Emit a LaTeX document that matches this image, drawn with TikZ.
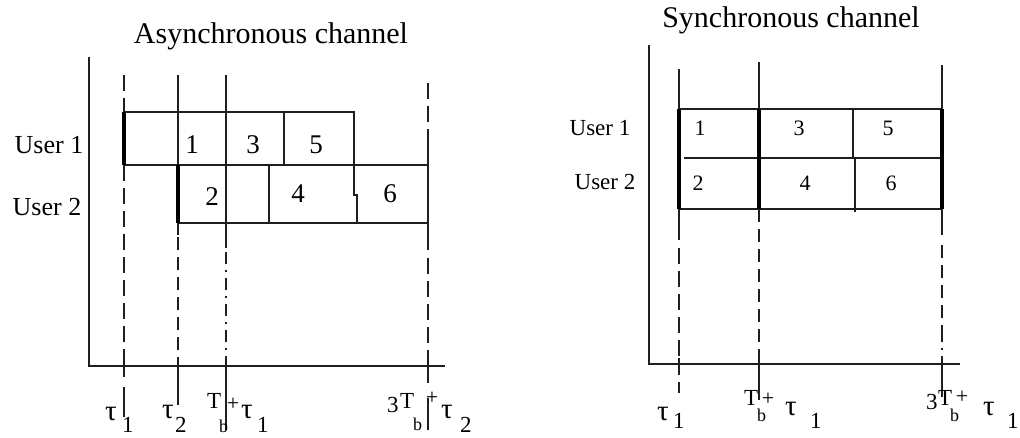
\documentclass[tikz,border=0pt]{standalone}
\usepackage{fontspec}
\setmainfont{Liberation Serif}
\tikzset{
  ln/.style={line width=1.6pt, draw=black!88},
  thk/.style={line width=3.6pt, draw=black},
  lng/.style={ln, dash pattern=on 16pt off 7pt},
  shrt/.style={ln, dash pattern=on 13pt off 7pt},
  dsd/.style={ln, dash pattern=on 12pt off 6pt on 2pt off 6pt},
  ttl/.style={font=\fontsize{30}{34}\selectfont, anchor=base, inner sep=0pt},
  usrL/.style={font=\fontsize{26}{30}\selectfont, inner sep=0pt},
  usrR/.style={font=\fontsize{23}{27}\selectfont, inner sep=0pt},
  numL/.style={font=\fontsize{27}{30}\selectfont, inner sep=0pt},
  numR/.style={font=\fontsize{22}{26}\selectfont, inner sep=0pt},
  bt/.style={font=\fontsize{29}{30}\selectfont, inner sep=0pt, anchor=base west},
  bs/.style={font=\fontsize{23}{26}\selectfont, inner sep=0pt, anchor=base west},
  bT/.style={font=\fontsize{23}{26}\selectfont, inner sep=0pt, anchor=base west},
  bb/.style={font=\fontsize{18}{20}\selectfont, inner sep=0pt, anchor=base west},
  bp/.style={font=\fontsize{22}{24}\selectfont, inner sep=0pt, anchor=center},
}
\begin{document}
\begin{tikzpicture}[x=1pt,y=-1pt]
\useasboundingbox[fill=white] (0,0) rectangle (1020,437);

% ---------------- Asynchronous channel ----------------
\node[ttl] (ta) at (271,43) {Asynchronous channel};
\draw[ln] (89,57) -- (89,366) -- (445,366);

% vertical guide lines
\draw[lng] (124,75) -- (124,112);
\draw[lng] (124,165) -- (124,366);
\draw[ln] (124,360) -- (124,377);
\draw[ln] (124,387) -- (124,417);

\draw[ln] (178,75) -- (178,235);
\draw[shrt] (178,237) -- (178,366);
\draw[ln] (178,360) -- (178,405);

\draw[ln] (226,75) -- (226,248);
\draw[dsd] (226,252) -- (226,366);
\draw[ln] (226,360) -- (226,430);

\draw[lng] (428,83) -- (428,133);
\draw[ln] (428,133) -- (428,250);
\draw[lng] (428,258) -- (428,366);
\draw[ln] (428,357) -- (428,383);
\draw[ln] (428,398) -- (428,430);

% boxes
\draw[ln] (124,112) -- (354,112) -- (354,165);
\draw[ln] (124,165) -- (428,165);
\draw[ln] (178,223) -- (428,223);
\draw[ln] (284,112) -- (284,165);
\draw[ln] (269,165) -- (269,223);
\draw[ln] (354,165) -- (354,195) -- (357,195) -- (357,223);
\draw[thk] (124,112) -- (124,165);
\draw[thk] (178,165) -- (178,223);

\node[usrL] (u1a) at (49,145) {User 1};
\node[usrL] (u2a) at (47,207) {User 2};
\node[numL] (n1a) at (192,145) {1};
\node[numL] (n3a) at (253,145) {3};
\node[numL] (n5a) at (316,145) {5};
\node[numL] (n2a) at (212,197) {2};
\node[numL] (n4a) at (298,194) {4};
\node[numL] (n6a) at (390,194) {6};

% bottom labels
\node[bt] (a1t) at (105,420) {τ};
\node[bs] (a1s) at (122,432) {1};
\node[bt] (a2t) at (162,418) {τ};
\node[bs] (a2s) at (175,432) {2};
\node[bT] (a3T) at (207,408) {T};
\node[bb] (a3b) at (219,432) {b};
\node[bp] (a3p) at (233,404) {+};
\node[bt] (a3t) at (241,418) {τ};
\node[bs] (a3s) at (257,432) {1};
\node[bs] (a4n) at (387,412) {3};
\node[bT] (a4T) at (400,408) {T};
\node[bb] (a4b) at (413,430) {b};
\node[bp] (a4p) at (432,398) {+};
\node[bt] (a4t) at (441,418) {τ};
\node[bs] (a4s) at (460,432) {2};

% ---------------- Synchronous channel ----------------
\node[ttl] (ts) at (791,27) {Synchronous channel};
\draw[ln] (649,45) -- (649,364) -- (960,364);

\draw[ln] (679,69) -- (679,240);
\draw[lng] (679,248) -- (679,364);
\draw[ln] (679,358) -- (679,375);
\draw[ln] (679,382) -- (679,393);

\draw[ln] (759,62) -- (759,109);
\draw[shrt] (759,209) -- (759,364);
\draw[ln] (759,356) -- (759,400);

\draw[ln] (942,65) -- (942,235);
\draw[shrt] (942,245) -- (942,330);
\draw[dsd] (942,330) -- (942,364);
\draw[ln] (942,356) -- (942,397);

\draw[ln] (679,109) -- (942,109);
\draw[ln] (684,158) -- (942,158);
\draw[ln] (679,209) -- (942,209);
\draw[ln] (853,109) -- (853,158);
\draw[ln] (855,158) -- (855,212);
\draw[thk] (679,109) -- (679,209);
\draw[thk] (759,109) -- (759,209);
\draw[thk] (942,109) -- (942,209);

\node[usrR] (u1b) at (600,128) {User 1};
\node[usrR] (u2b) at (605,182) {User 2};
\node[numR] (n1b) at (700,128) {1};
\node[numR] (n3b) at (799,128) {3};
\node[numR] (n5b) at (888,128) {5};
\node[numR] (n2b) at (698,183) {2};
\node[numR] (n4b) at (805,183) {4};
\node[numR] (n6b) at (891,183) {6};

\node[bt] (b1t) at (657,420) {τ};
\node[bs] (b1s) at (673,428) {1};
\node[bT] (b2T) at (744,405) {T};
\node[bb] (b2b) at (757,421) {b};
\node[bp] (b2p) at (768,399) {+};
\node[bt] (b2t) at (785,415) {τ};
\node[bs] (b2s) at (810,428) {1};
\node[bs] (b3n) at (926,409) {3};
\node[bT] (b3T) at (938,405) {T};
\node[bb] (b3b) at (950,421) {b};
\node[bp] (b3p) at (962,397) {+};
\node[bt] (b3t) at (983,415) {τ};
\node[bs] (b3s) at (1007,428) {1};
\end{tikzpicture}
\end{document}
